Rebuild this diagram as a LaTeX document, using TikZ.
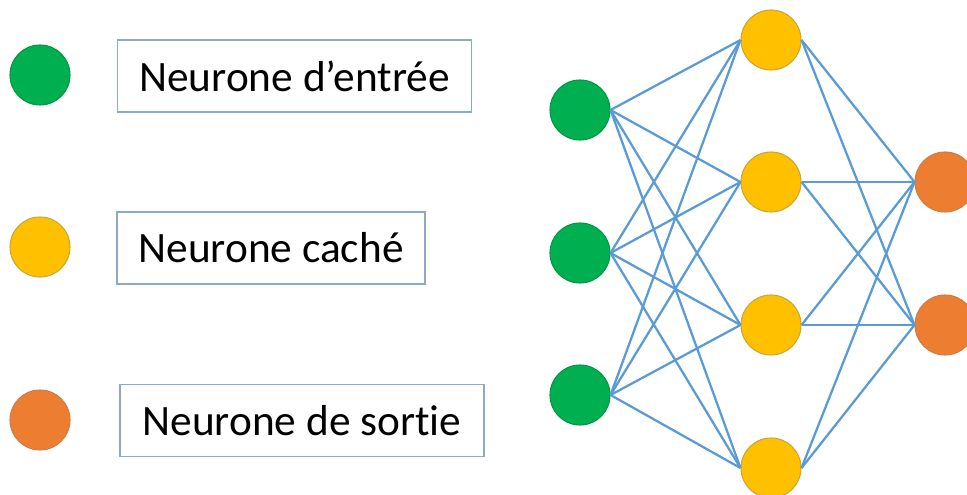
\documentclass[tikz,border=0pt]{standalone}
\usepackage{fontspec}
\setmainfont{Carlito}[Ligatures=NoCommon]
\usepackage{xcolor}
\definecolor{inputgreen}{HTML}{00B050}
\definecolor{hiddenyellow}{HTML}{FFC000}
\definecolor{outputorange}{HTML}{ED7D31}
\definecolor{linkblue}{HTML}{5B9BD5}
\definecolor{boxblue}{HTML}{8EA9C8}

\begin{document}
\begin{tikzpicture}[x=0.75pt,y=-0.75pt]
\tikzset{neuron/.style={circle,minimum size=45pt,inner sep=0pt,line width=0.8pt}}
\tikzset{entree/.style={neuron,fill=inputgreen,draw=inputgreen!85!black}}
\tikzset{cache/.style={neuron,fill=hiddenyellow,draw=hiddenyellow!60!gray}}
\tikzset{sortie/.style={neuron,fill=outputorange,draw=outputorange!70!gray}}
\tikzset{legendbox/.style={draw=boxblue,line width=0.8pt,minimum height=54pt,inner sep=0pt,font=\fontsize{32.5}{38}\selectfont}}
\tikzset{link/.style={linkblue,line width=1.7pt}}

\useasboundingbox (0,0) rectangle (967,495);

% legende
\node[entree] (lgIn) at (40,75) {};
\node[cache] (lgHid) at (40,247) {};
\node[sortie] (lgOut) at (40,420) {};
\node[legendbox,minimum width=266pt] (boxIn) at (294.5,76) {Neurone d’entrée};
\node[legendbox,minimum width=231pt] (boxHid) at (271,248) {Neurone caché};
\node[legendbox,minimum width=273pt] (boxOut) at (302,420.5) {Neurone de sortie};

% reseau
\node[entree] (i1) at (580,110) {};
\node[entree] (i2) at (580,253) {};
\node[entree] (i3) at (580,395) {};
\node[cache] (h1) at (771,40) {};
\node[cache] (h2) at (771,182) {};
\node[cache] (h3) at (771,325) {};
\node[cache] (h4) at (771,468) {};
\node[sortie] (o1) at (945,182) {};
\node[sortie] (o2) at (945,325) {};

\foreach \i in {1,2,3}
  \foreach \h in {1,2,3,4}
    \draw[link] (i\i.east) -- (h\h.west);
\foreach \h in {1,2,3,4}
  \foreach \o in {1,2}
    \draw[link] (h\h.east) -- (o\o.west);

\end{tikzpicture}
\end{document}
